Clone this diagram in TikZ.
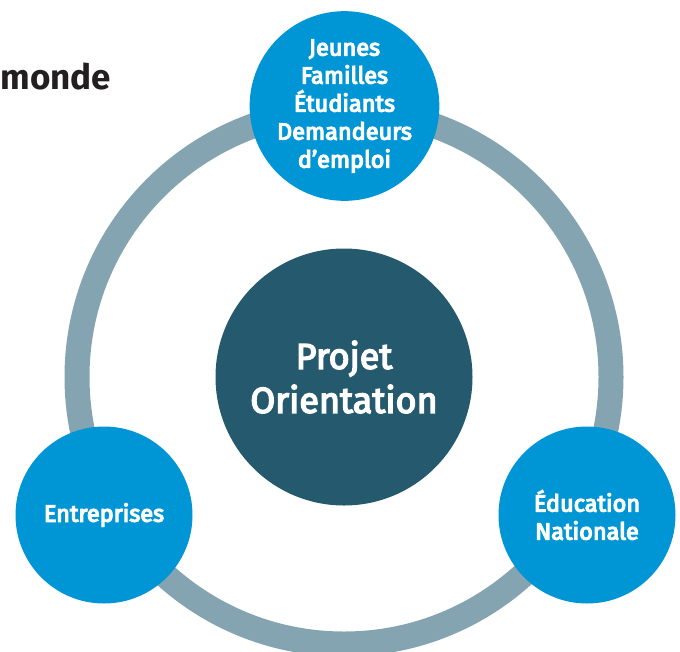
\documentclass[tikz,border=0pt]{standalone}
\usepackage{fontspec}
\setmainfont{Fira Sans}
\newfontfamily\semifont{Fira Sans}[FakeBold=5]
\newfontfamily\medfont{Fira Sans}[FakeBold=4]
\usetikzlibrary{calc}
\definecolor{ringgrey}{RGB}{132,164,178}
\definecolor{partblue}{RGB}{0,150,214}
\definecolor{projteal}{RGB}{37,90,110}
\definecolor{titleblack}{RGB}{35,31,32}
\tikzset{
  partner/.style={circle,fill=partblue,text=white,minimum size=177pt,inner sep=0pt,
    align=center,font=\semifont\fontsize{23.5}{28}\selectfont},
  projet/.style={circle,fill=projteal,text=white,minimum size=257pt,inner sep=0pt,
    align=center,font=\medfont\fontsize{36}{44}\selectfont},
  ring/.style={draw=ringgrey,line width=25pt}
}

\begin{document}
\begin{tikzpicture}[x=1pt,y=-1pt]
      \useasboundingbox (0,0) rectangle (680,651);
      % ring round the project
      \coordinate (centre) at (344,377);
      \draw [ring] (centre) circle (267pt);
      \node [anchor=base west,inner sep=0pt,text=titleblack,font=\bfseries\fontsize{35}{42}\selectfont] (titre) at (0.5,89) {monde};
      \node [projet] (orientation) at (centre) {Projet\\Orientation};
      \node [partner] (publics) at (344.5,106) {Jeunes\\Familles\\Étudiants\\Demandeurs\\d’emploi};
      \node [partner] (entreprises) at (104,515) {Entreprises};
      \node [partner] (education) at (587,515) {Éducation\\Nationale};
      \end{tikzpicture}
\end{document}
